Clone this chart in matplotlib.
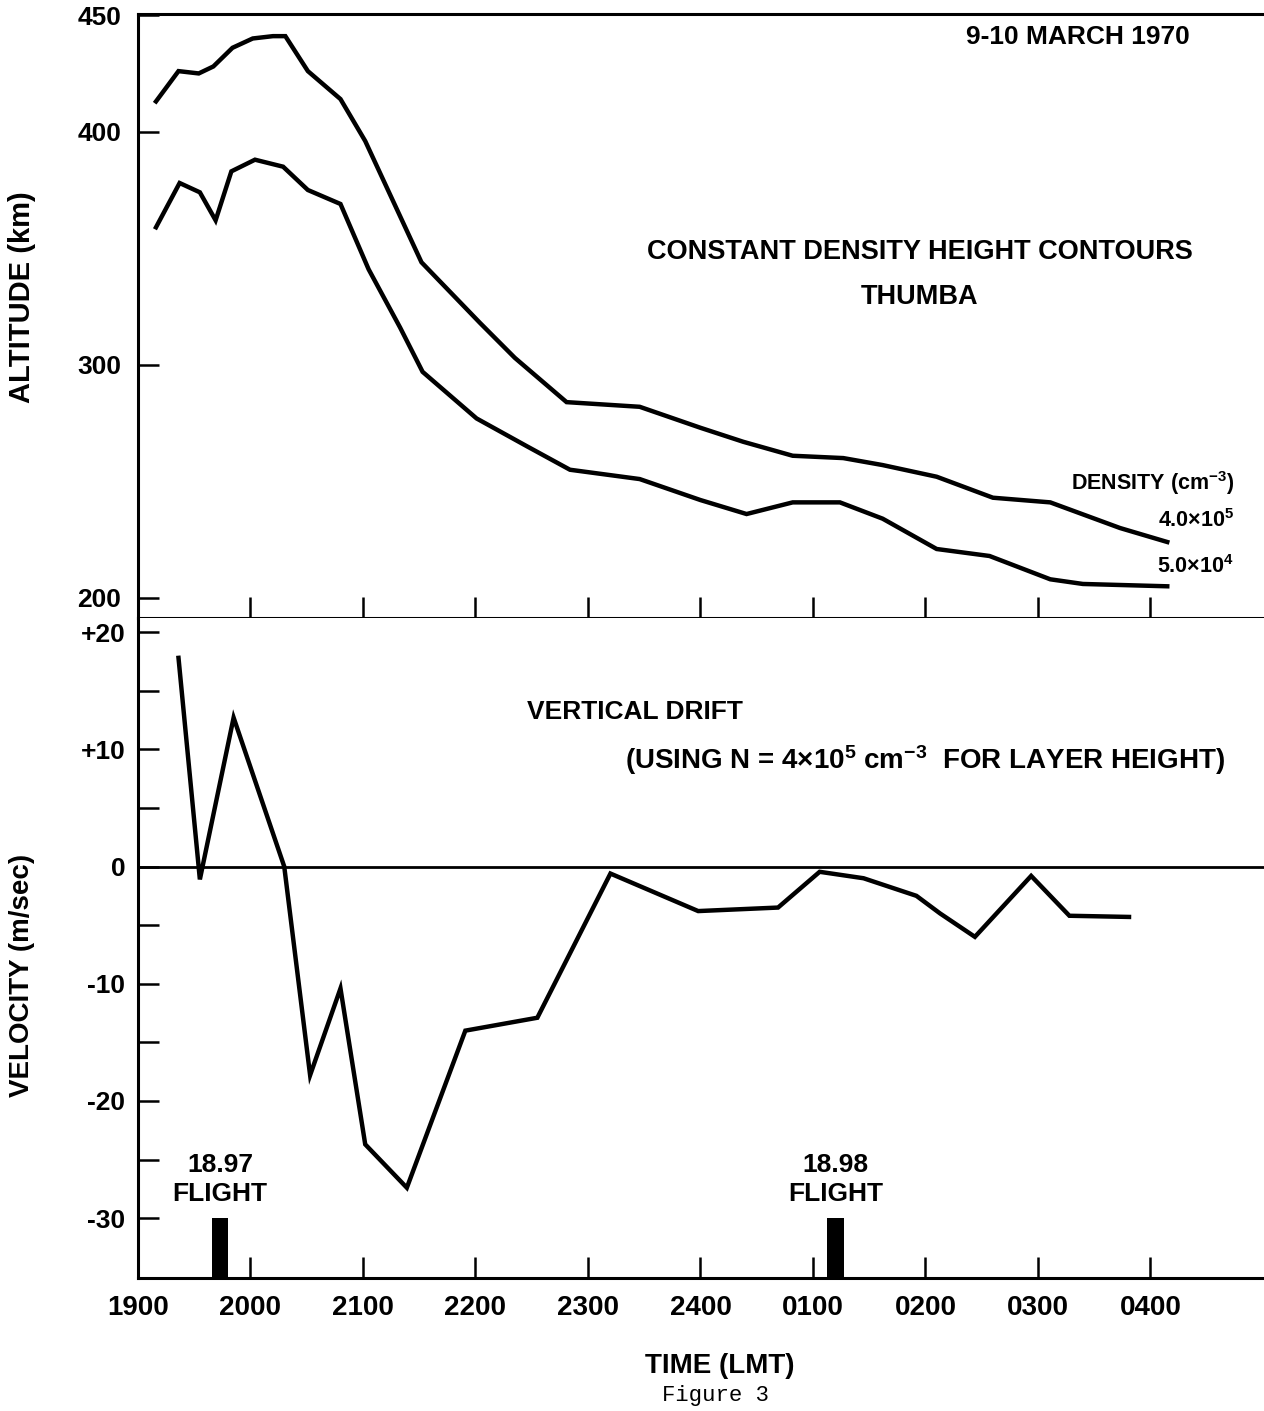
import matplotlib.pyplot as plt
from matplotlib.ticker import FixedLocator

# time axis: hours after 1900 LMT
time_ticks = [0, 1, 2, 3, 4, 5, 6, 7, 8, 9]
time_labels = ['1900', '2000', '2100', '2200', '2300', '2400',
               '0100', '0200', '0300', '0400']

# constant density height contours (km)
hours_hi = [0.16, 0.36, 0.54, 0.67, 0.84, 1.02, 1.20, 1.31, 1.51, 1.80, 2.02,
            2.52, 3.04, 3.35, 3.81, 4.46, 5.00, 5.38, 5.82, 6.27, 6.62, 7.10,
            7.60, 8.11, 8.73, 9.15]
alt_hi = [413, 426, 425, 428, 436, 440, 441, 441, 426, 414, 396,
          344, 318, 303, 284, 282, 273, 267, 261, 260, 257, 252,
          243, 241, 230, 224]

hours_lo = [0.16, 0.37, 0.55, 0.69, 0.83, 1.04, 1.29, 1.51, 1.80, 2.05, 2.33,
            2.53, 3.01, 3.46, 3.84, 4.46, 5.00, 5.41, 5.82, 6.24, 6.62, 7.10,
            7.57, 8.11, 8.40, 9.15]
alt_lo = [359, 378, 374, 362, 383, 388, 385, 375, 369, 341, 316,
          297, 277, 265, 255, 251, 242, 236, 241, 241, 234, 221,
          218, 208, 206, 205]

# vertical drift (m/sec)
hours_vel = [0.36, 0.55, 0.85, 1.30, 1.53, 1.80, 2.02, 2.39, 2.91, 3.55, 4.20,
             4.98, 5.69, 6.06, 6.45, 6.92, 7.13, 7.44, 7.94, 8.28, 8.81]
vel = [17.8, -1.1, 12.7, 0.0, -17.8, -10.4, -23.7, -27.4, -14.0, -12.9, -0.6,
       -3.8, -3.5, -0.45, -1.0, -2.5, -4.0, -6.0, -0.8, -4.2, -4.3]

# rocket flights
flight_hours = [0.73, 6.20]
flight_names = ['18.97', '18.98']
flight_bar_top = -30

plt.rcParams['font.family'] = ['Liberation Sans', 'DejaVu Sans']
plt.rcParams['font.weight'] = 'bold'
plt.rcParams['mathtext.fontset'] = 'custom'
plt.rcParams['mathtext.rm'] = 'Liberation Sans:bold'
plt.rcParams['mathtext.it'] = 'Liberation Sans:bold'
plt.rcParams['mathtext.bf'] = 'Liberation Sans:bold'
plt.rcParams['mathtext.default'] = 'rm'

W, H = 1264, 1411
fig = plt.figure(figsize=(W / 100, H / 100), dpi=100)


def fx(x):
    return x / W


def fy(y):
    return 1 - y / H


ax1 = fig.add_axes([fx(138), fy(618), 1 - fx(138), fy(14) - fy(618)])
ax2 = fig.add_axes([fx(138), fy(1278), 1 - fx(138), fy(618) - fy(1278)])

for ax in (ax1, ax2):
    ax.set_xlim(0, 10.01)
    ax.spines['right'].set_visible(False)
    for s in ax.spines.values():
        s.set_linewidth(2.2)
    ax.tick_params(direction='in', width=1.8, length=15, colors='k')

# upper panel
ax1.plot(hours_hi, alt_hi, color='k', lw=3.2, solid_joinstyle='miter')
ax1.plot(hours_lo, alt_lo, color='k', lw=3.2, solid_joinstyle='miter')
ax1.set_ylim(191.4, 450.5)
ax1.set_yticks([200, 300, 400, 450])
ax1.set_yticklabels(['200', '300', '400', '450'])
ax1.set_xticks(time_ticks[1:])
ax1.set_xticklabels([])
ax1.tick_params(axis='y', labelsize=19, pad=12)

# lower panel
ax2.spines['top'].set_visible(False)
ax2.axhline(0, color='k', lw=2.0)
ax2.plot(hours_vel, vel, color='k', lw=3.2, solid_joinstyle='miter')
ax2.bar(flight_hours, [flight_bar_top + 36] * len(flight_hours), bottom=-36,
        width=0.145, color='k')
for h, name in zip(flight_hours, flight_names):
    ax2.text(h, -26.7, name + '\nFLIGHT', ha='center', va='center',
             fontsize=19, linespacing=1.3)
ax2.set_ylim(-35.1, 21.2)
ax2.set_yticks([-30, -20, -10, 0, 10, 20])
ax2.set_yticklabels(['-30', '-20', '-10', '0', '+10', '+20'])
ax2.yaxis.set_minor_locator(FixedLocator([-25, -15, -5, 5, 15]))
ax2.tick_params(axis='y', which='minor', direction='in', width=1.8, length=15)
ax2.tick_params(axis='y', labelsize=19, pad=9)
ax2.set_xticks(time_ticks)
ax2.set_xticklabels(time_labels)
ax2.tick_params(axis='x', labelsize=20, pad=12)

# axis titles and annotations
fig.text(fx(22), fy(297), 'ALTITUDE (km)', rotation=90, ha='center',
         va='center', fontsize=21)
fig.text(fx(22), fy(975), 'VELOCITY (m/sec)', rotation=90, ha='center',
         va='center', fontsize=20)
fig.text(fx(720), fy(1366), 'TIME (LMT)', ha='center', va='center', fontsize=20)
fig.text(fx(715), fy(1396), 'Figure 3', ha='center', va='center',
         fontsize=16, family='Liberation Mono', weight='normal')

fig.text(fx(1078), fy(37), '9-10 MARCH 1970', ha='center', va='center',
         fontsize=19)
fig.text(fx(920), fy(252), 'CONSTANT DENSITY HEIGHT CONTOURS', ha='center',
         va='center', fontsize=19.5)
fig.text(fx(920), fy(297), 'THUMBA', ha='center', va='center', fontsize=19.5)

fig.text(fx(1234), fy(483), r'DENSITY (cm$^{-3}$)', ha='right', va='center',
         fontsize=15.5)
fig.text(fx(1234), fy(521), r'4.0×10$^{5}$', ha='right', va='center',
         fontsize=15.5)
fig.text(fx(1234), fy(567), r'5.0×10$^{4}$', ha='right', va='center',
         fontsize=15.5)

fig.text(fx(527), fy(712), 'VERTICAL DRIFT', ha='left', va='center',
         fontsize=19)
fig.text(fx(625), fy(760),
         r'(USING N = 4×10$^{5}$ cm$^{-3}$  FOR LAYER HEIGHT)',
         ha='left', va='center', fontsize=20)

fig.savefig('out.png', dpi=100, facecolor='white')
